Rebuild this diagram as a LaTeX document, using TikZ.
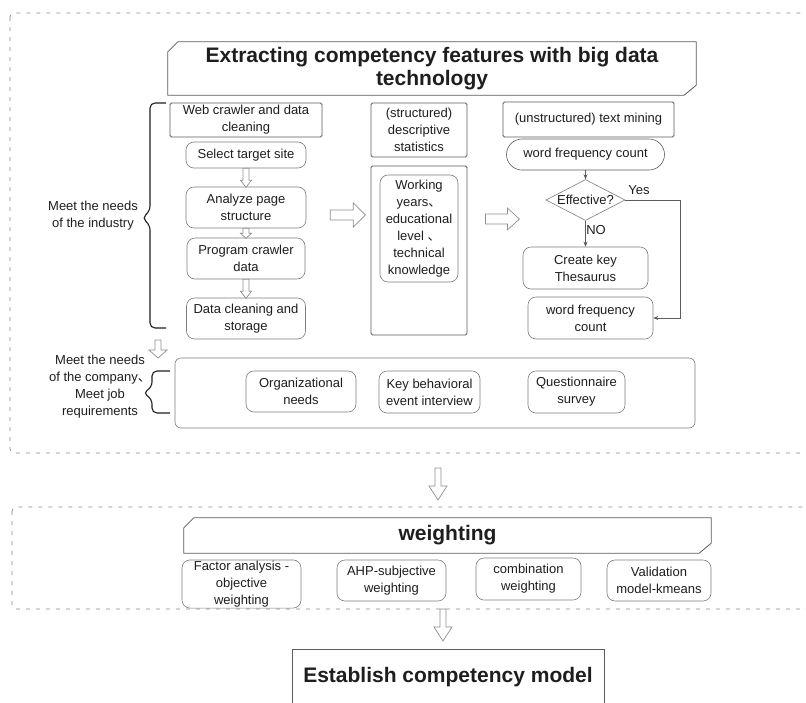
\documentclass[tikz,border=0pt]{standalone}
\usepackage{fontspec}
\setmainfont{Liberation Sans}
\newfontfamily\cjk{Noto Sans CJK SC}
\usetikzlibrary{arrows.meta,positioning,shapes.misc,shapes.geometric,calc}
\definecolor{ink}{HTML}{1E1E1E}
\definecolor{edge}{HTML}{5C5C5C}
\definecolor{soft}{HTML}{8E8E8E}
\definecolor{dashgray}{HTML}{8C8C8C}
\newcommand{\bodyfont}{\fontsize{13}{17}\selectfont}
\newcommand{\headfont}{\fontsize{21}{23}\selectfont\bfseries}
\newcommand{\dun}{{\cjk 、}}
% outline with two cut corners round a named node
\newcommand{\chamfer}[1]{\draw[draw=edge,line width=0.8pt]
  ([yshift=-10pt]#1.north west) -- ([xshift=10pt]#1.north west) -- (#1.north east)
  -- ([yshift=10pt]#1.south east) -- ([xshift=-12pt]#1.south east) -- (#1.south west) -- cycle;}
\tikzset{
  sqbox/.style={draw=edge,line width=0.8pt,rounded corners=1.5pt,align=center,
                inner sep=1pt,font=\bodyfont,text=ink},
  rndbox/.style={draw=edge!80,line width=0.6pt,rounded corners=8pt,align=center,
                 inner sep=1pt,font=\bodyfont,text=ink},
  pillbox/.style={draw=edge,line width=0.6pt,rounded rectangle,align=center,
                  inner sep=1pt,font=\bodyfont,text=ink},
  decide/.style={draw=edge!80,line width=0.6pt,diamond,inner sep=0pt},
  headbox/.style={align=center,inner sep=0pt,font=\headfont,text=ink},
  tag/.style={font=\bodyfont,text=ink,align=center,inner sep=0pt},
  thinarr/.style={-{Stealth[length=5pt,width=4pt]},draw=edge,line width=0.6pt},
  fence/.style={draw=dashgray,line width=0.7pt,dash pattern=on 4pt off 6pt,rounded corners=4pt},
  curly/.style={draw=ink,line width=1.1pt,rounded corners=5pt},
  hollow/.style={draw=soft,fill=white,line width=0.7pt,line join=miter},
  pics/downarr/.style n args={4}{code={
    \draw[hollow] (-#2,0) -- (-#2,{#1-#4}) -- (-#3,{#1-#4}) -- (0,#1)
      -- (#3,{#1-#4}) -- (#2,{#1-#4}) -- (#2,0) -- cycle;}},
  pics/rightarr/.style n args={4}{code={
    \draw[hollow] (0,-#2) -- ({#1-#4},-#2) -- ({#1-#4},-#3) -- (#1,0)
      -- ({#1-#4},#3) -- ({#1-#4},#2) -- (0,#2) -- cycle;}}
}
\begin{document}
\begin{tikzpicture}[x=1pt,y=-1pt]
  \useasboundingbox (0,0) rectangle (806,702);
  \fill[white] (0,0) rectangle (806,702);
  \clip (0,0) rectangle (806,702);

  % dashed frames
  \draw[fence] (10,13) rectangle (840,453);
  \draw[fence] (12,507) rectangle (840,609);

  % heading
  \node[headbox,minimum width=528pt,minimum height=53pt] (hd) at (432,68.5)
    {Extracting competency features with big data\\technology};
  \chamfer{hd}

  % crawler column
  \node[sqbox,minimum width=152pt,minimum height=34pt] (web) at (246,120) {Web crawler and data\\cleaning};
  \node[rndbox,minimum width=120pt,minimum height=26pt] (sel) at (246,155) {Select target site};
  \node[rndbox,minimum width=120pt,minimum height=41pt] (ana) at (246,207.5) {Analyze page\\structure};
  \node[rndbox,minimum width=118pt,minimum height=41pt] (prog) at (246,258.5) {Program crawler\\data};
  \node[rndbox,minimum width=119pt,minimum height=41pt] (clean) at (246,318.5) {Data cleaning and\\storage};
  \pic at (sel.south) {downarr={19}{3}{5.5}{7}};
  \pic at (ana.south) {downarr={10}{3}{5.5}{5}};
  \pic at (prog.south) {downarr={19}{3}{5.5}{7}};

  % statistics column
  \node[sqbox,minimum width=96pt,minimum height=54pt] (desc) at (419,130) {(structured)\\descriptive\\statistics};
  \node[sqbox,minimum width=96pt,minimum height=169pt] (big) at (419,250.5) {};
  \node[rndbox,minimum width=78pt,minimum height=107pt] (work) at (419,228.5)
    {Working\\years\dun\\educational\\level \dun\\technical\\knowledge};
  \pic at ($(ana.east)+(24,7.5)$) {rightarr={35}{5}{12}{12}};
  \pic at ($(big.east)+(18,-31.5)$) {rightarr={34}{5}{11}{12}};

  % text mining column
  \node[sqbox,minimum width=171pt,minimum height=35pt] (txt) at (588.5,119.5) {(unstructured) text mining};
  \node[pillbox,minimum width=160pt,minimum height=31pt] (wfc1) at (585.5,154.5) {word frequency count};
  \node[decide,minimum width=79pt,minimum height=41pt,
        label={[tag]center:Effective?}] (dia) at (585.5,200) {};
  \node[rndbox,minimum width=125pt,minimum height=42pt] (key) at (585.5,268) {Create key\\Thesaurus};
  \node[rndbox,minimum width=125pt,minimum height=42pt] (wfc2) at (590.5,318) {word frequency\\count};
  \coordinate (yesbend) at (680,200);
  \draw[thinarr] (wfc1.south) -- (dia.north);
  \draw[thinarr] (dia.south) -- (key.north);
  \draw[thinarr] (dia.east) -- (yesbend) |- (wfc2.east);
  \node[tag] (yes) at (639,190.5) {Yes};
  \node[tag] (no) at (596,230) {NO};

  % industry needs
  \node[tag] (ind) at (93,215.5) {Meet the needs\\of the industry};
  \draw[curly] (166,103) -- (150,103) -- (150,211) -- (142,218) -- (150,225) -- (150,328) -- (166,328);
  \pic at (158,340) {downarr={18}{3}{9}{8}};

  % company needs
  \node[tag] (comp) at (100,387) {Meet the needs\\of the company\dun\\Meet job\\requirements};
  \draw[curly] (170,371) -- (152,371) -- (152,387) -- (143,393) -- (152,399) -- (152,413) -- (170,413);
  \node[rndbox,rounded corners=6pt,minimum width=520pt,minimum height=70pt] (needs) at (435,393) {};
  \node[rndbox,minimum width=110pt,minimum height=41pt] (org) at (301,391.5) {Organizational\\needs};
  \node[rndbox,minimum width=101pt,minimum height=42pt] (kbe) at (429.5,392) {Key behavioral\\event interview};
  \node[rndbox,minimum width=97pt,minimum height=42pt] (qs) at (576.5,392) {Questionnaire\\survey};

  \pic at (438,468) {downarr={32}{3}{9}{14}};

  % weighting
  \node[headbox,minimum width=527pt,minimum height=35pt] (wt) at (447.5,535.5) {weighting};
  \chamfer{wt}
  \node[rndbox,minimum width=119pt,minimum height=48pt] (fa) at (241.5,584) {Factor analysis -\\objective\\weighting};
  \node[rndbox,minimum width=109pt,minimum height=41pt] (ahp) at (391.5,580.5) {AHP-subjective\\weighting};
  \node[rndbox,minimum width=105pt,minimum height=42pt] (comb) at (528.5,579) {combination\\weighting};
  \node[rndbox,minimum width=104pt,minimum height=41pt] (val) at (659,580.5) {Validation\\model-kmeans};

  \pic at (443,609) {downarr={32}{3}{9}{14}};

  % result
  \node[sqbox,font=\headfont,rounded corners=0pt,minimum width=312pt,minimum height=56pt] (est) at (448,677)
    {Establish competency model};
\end{tikzpicture}
\end{document}
